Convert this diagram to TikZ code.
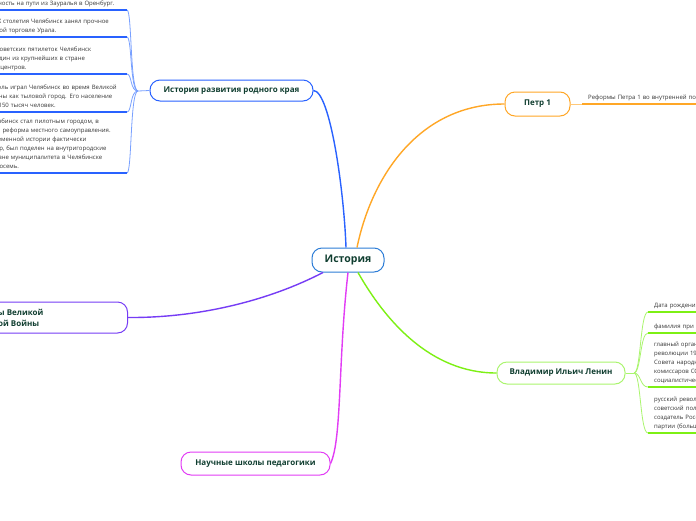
\documentclass[tikz,border=0pt]{standalone}
\usepackage{fontspec}
\setmainfont{Open Sans}
\usepackage{tikz}
\usetikzlibrary{calc}
\definecolor{rootblue}{RGB}{45,125,215}
\definecolor{histblue}{RGB}{41,98,255}
\definecolor{histlight}{RGB}{120,160,255}
\definecolor{petrorange}{RGB}{255,167,38}
\definecolor{petrlight}{RGB}{255,200,120}
\definecolor{leningreen}{RGB}{125,240,20}
\definecolor{leninlight}{RGB}{170,245,110}
\definecolor{warpurple}{RGB}{118,60,245}
\definecolor{schoolpink}{RGB}{226,60,245}
\definecolor{labelgreen}{RGB}{16,62,48}
\definecolor{leafgray}{RGB}{55,55,55}

\begin{document}
\begin{tikzpicture}[x=1pt, y=-1pt,
    topic/.style={draw, fill=white, rounded corners=10pt, line width=1pt, inner sep=0pt,
      text=labelgreen, font=\bfseries\fontsize{8}{11}\selectfont},
    root/.style={topic, minimum width=72pt, minimum height=24pt,
      font=\bfseries\fontsize{10.5}{12}\selectfont},
    leaf/.style={font=\fontsize{6}{9}\selectfont, text=leafgray, align=left,
      inner xsep=6pt, inner ysep=3pt},
    branch/.style={line width=1.4pt},
    twig/.style={line width=0.8pt},
    underline/.style={line width=1.3pt}
]
\useasboundingbox (0,0) rectangle (696,520);
\fill[white] (0,0) rectangle (696,520);
\clip (0,0) rectangle (696,520);

% main topics
\node[root, draw=rootblue] (hist) at (348,260) {История};
\node[topic, draw=histblue, minimum width=163pt, minimum height=21pt] (region) at (231.5,90.5) {История развития родного края};
\node[topic, draw=petrorange, minimum width=65pt, minimum height=24pt] (petr) at (537.5,104) {Петр 1};
\node[topic, draw=leninlight, minimum width=128pt, minimum height=22pt] (lenin) at (561,373) {Владимир Ильич Ленин};
\node[topic, draw=warpurple, align=center, minimum width=272pt, minimum height=31pt, anchor=east] (war) at (128,317.5) {Учителя в годы Великой\\Отечественной Войны};
\node[topic, draw=schoolpink, minimum width=149pt, minimum height=23pt] (school) at (255.5,463.5) {Научные школы педагогики};

\draw[branch, histblue] ([xshift=-2pt]hist.north) .. controls (344,190) and (330,91) .. (region.east);
\draw[branch, petrorange] ([xshift=9pt]hist.north) .. controls (372,175) and (420,104) .. (petr.west);
\draw[branch, leningreen] ([xshift=10pt]hist.south) .. controls (385,320) and (430,373) .. (lenin.west);
\draw[branch, warpurple] ([xshift=-25pt]hist.south) .. controls (270,300) and (200,318) .. (war.east);
\draw[branch, schoolpink] (hist.south) .. controls (338,360) and (342,440) .. (school.east);

% history of the region
\node[leaf, text width=182pt, anchor=south east] (h1) at (127,10) {Челябинская крепость имела\\стратегическую важность на пути из Зауралья в Оренбург.};
\node[leaf, text width=179pt, anchor=south east] (h2) at (127,37) {Во второй трети XIX столетия Челябинск занял прочное\\положение в хлебной торговле Урала.};
\node[leaf, text width=170pt, anchor=south east] (h3) at (127,74) {В годы первых советских пятилеток Челябинск\\превратился в один из крупнейших в стране\\промышленных центров.};
\node[leaf, text width=180pt, anchor=south east] (h4) at (127,112) {Исключительную роль играл Челябинск во время Великой\\Отечественной войны как тыловой город. Его население\\возросло почти на 150 тысяч человек.};
\node[leaf, text width=170pt, anchor=south east] (h5) at (127,173) {В 2014 году Челябинск стал пилотным городом, в\\котором прошла реформа местного самоуправления.\\Впервые в современной истории фактически\\город-миллионер, был поделен на внутригородские\\районы. На уровне муниципалитета в Челябинске\\районов стало восемь.};

\coordinate (hs) at (138,91);
\draw[twig, histlight] (region.west) -- (hs);
\foreach \n/\y in {h1/10, h2/37, h3/74, h4/112, h5/173}
  \draw[twig, histlight] (hs) .. controls (130,91) and (132,\y) .. (\n.south east);
\foreach \n in {h1,h2,h3,h4,h5}
  \draw[underline, histblue] (\n.south west) -- (\n.south east);

% Peter I
\node[leaf, text width=200pt, anchor=south west] (p1) at (582,104) {Реформы Петра 1 во внутренней политике};
\draw[twig, petrlight] (petr.east) -- (p1.south west);
\draw[underline, petrorange] (p1.south west) -- (p1.south east);

% Lenin
\node[leaf, text width=260pt, anchor=south west] (l1) at (648,312) {Дата рождения: 22 апреля 1870 г.};
\node[leaf, text width=260pt, anchor=south west] (l2) at (648,333) {фамилия при рождении — Ульянов};
\node[leaf, text width=260pt, anchor=south west] (l3) at (648,387) {главный организатор и руководитель Октябрьской\\революции 1917 года в России, председатель\\Совета народных комиссаров РСФСР, председатель Совета народных\\комиссаров СССР, создатель первого в мировой истории\\социалистического государства.};
\node[leaf, text width=260pt, anchor=south west] (l4) at (648,433) {русский революционер,\\советский политический и общественный деятель,\\создатель Российской социал-демократической рабочей\\партии (большевиков)};

\coordinate (ls) at (634,373);
\draw[twig, leninlight] (lenin.east) -- (ls);
\foreach \n/\y in {l1/312, l2/333, l3/387, l4/433}
  \draw[twig, leninlight] (ls) .. controls (641,373) and (640,\y) .. (\n.south west);
\foreach \n in {l1,l2,l3,l4}
  \draw[underline, leningreen] (\n.south west) -- (\n.south east);
\end{tikzpicture}
\end{document}
